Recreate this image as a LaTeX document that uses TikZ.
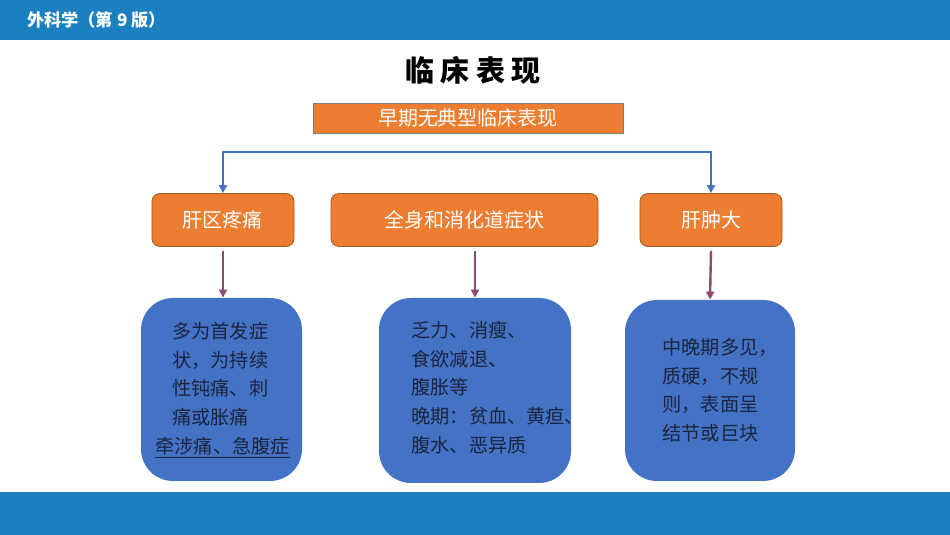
\documentclass[tikz,border=0pt]{standalone}
\usepackage{fontspec}
\setmainfont{Noto Sans CJK SC}
\usetikzlibrary{arrows.meta, positioning}
\definecolor{barblue}{HTML}{1A80C0}
\definecolor{boxorange}{HTML}{ED7D31}
\definecolor{boxblue}{HTML}{4472C4}
\definecolor{linkpurple}{HTML}{8E4A74}
\definecolor{textdark}{HTML}{1C2540}
\tikzset{
  head/.style={draw=boxorange!70!black, fill=boxorange, rounded corners=4pt, text=white, font=\fontsize{10}{12}\selectfont, inner sep=0pt},
  info/.style={fill=boxblue, rounded corners=16pt, inner sep=0pt},
  body/.style={text=textdark, align=left, anchor=north west, font=\fontsize{9.6}{14.3}\selectfont, inner sep=0pt},
  split/.style={draw=boxblue, line width=1.2pt, -{Triangle[length=4pt,width=4pt]}},
  down/.style={draw=linkpurple, line width=1.2pt, -{Triangle[length=4pt,width=4pt]}},
}
\begin{document}
\begin{tikzpicture}[x=0.5pt, y=-0.5pt]
            \useasboundingbox (0,0) rectangle (950,535);
            \fill[barblue] (0,0) rectangle (950,40);
            \fill[barblue] (0,492) rectangle (950,535);
            \node[text=white, font=\bfseries\fontsize{8.6}{10}\selectfont, anchor=west] (book) at (20,20) {外科学（第 9 版）};
            \node[font=\bfseries\fontsize{14.5}{16}\selectfont] (title) at (473,70) {临\ 床\ 表\ 现};
            
            \node[draw=gray, fill=boxorange, text=white, minimum width=155pt, minimum height=15pt, inner sep=0pt, font=\fontsize{10}{12}\selectfont] (early) at (468,118) {早期无典型临床表现};
            
            \node[head, minimum width=71pt, minimum height=26.5pt] (pain) at (223,220) {肝区疼痛};
            \node[head, minimum width=133.5pt, minimum height=26.5pt] (whole) at (464.5,220) {全身和消化道症状};
            \node[head, minimum width=71pt, minimum height=26.5pt] (liver) at (711,220) {肝肿大};
            
            \node[info, minimum width=80.5pt, minimum height=91.5pt] (painbox) at (221.5,389.5) {};
            \node[info, minimum width=96pt, minimum height=92.5pt] (wholebox) at (475,390.5) {};
            \node[info, minimum width=85pt, minimum height=90.5pt] (liverbox) at (710,390.5) {};
            
            \node[body] (paintext) at (172,322) {多为首发症\\状，为持续\\性钝痛、刺\\痛或胀痛\\\hspace*{-8.5pt}\underline{牵涉痛、急腹症}};
            \node[body] (wholetext) at (411,321) {乏力、消瘦、\\食欲减退、\\腹胀等\\晚期：贫血、黄疸、\\腹水、恶异质};
            \node[body] (livertext) at (662,338) {中晚期多见，\\质硬，不规\\则，表面呈\\结节或巨块};
            
            \coordinate (bar) at (467,152);
            \draw[split, {Triangle[length=4pt,width=4pt]}-{Triangle[length=4pt,width=4pt]}] (pain.north) |- (bar) -| (liver.north);
            \draw[down] ([yshift=-2pt]pain.south) -- (painbox.north -| pain.south);
            \draw[down] ([yshift=-2pt]whole.south -| wholebox.north) -- (wholebox.north);
            \draw[down] ([yshift=-2pt]liver.south) -- (liverbox.north);
        \end{tikzpicture}
\end{document}
